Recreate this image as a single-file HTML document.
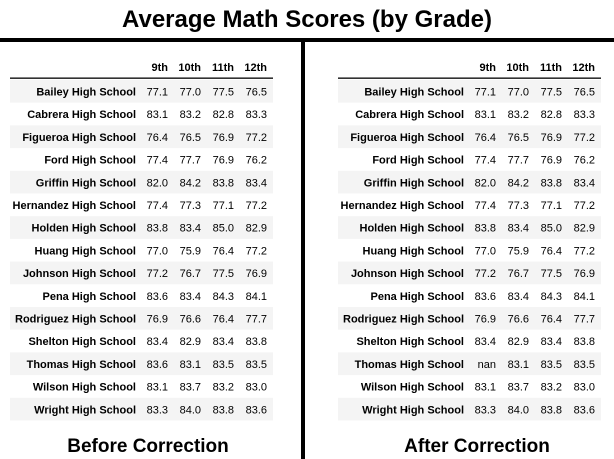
<!DOCTYPE html>
<html><head><meta charset="utf-8">
<style>
html,body{margin:0;padding:0;background:#fff;width:614px;height:459px;overflow:hidden;font-family:"Liberation Sans",Arial,sans-serif}
svg{display:block}
</style></head><body>
<svg id="c" width="614" height="459" xmlns="http://www.w3.org/2000/svg">
<text x="307" y="27" text-anchor="middle" font-family="Liberation Sans, sans-serif" font-weight="bold" font-size="24" fill="#000">Average Math Scores (by Grade)</text>
<rect x="0" y="38" width="614" height="4" fill="#000"/>
<rect x="301" y="40" width="4" height="419" fill="#000"/>
<text x="148" y="452" text-anchor="middle" font-family="Liberation Sans, sans-serif" font-weight="bold" font-size="19" fill="#000">Before Correction</text>
<text x="477" y="452" text-anchor="middle" font-family="Liberation Sans, sans-serif" font-weight="bold" font-size="19" fill="#000">After Correction</text>
</svg>
<script>
const schools=["Bailey High School","Cabrera High School","Figueroa High School","Ford High School","Griffin High School","Hernandez High School","Holden High School","Huang High School","Johnson High School","Pena High School","Rodriguez High School","Shelton High School","Thomas High School","Wilson High School","Wright High School"];
const grades=["9th","10th","11th","12th"];
const before9=["77.1","83.1","76.4","77.4","82.0","77.4","83.8","77.0","77.2","83.6","76.9","83.4","83.6","83.1","83.3"];
const before10=["77.0","83.2","76.5","77.7","84.2","77.3","83.4","75.9","76.7","83.4","76.6","82.9","83.1","83.7","84.0"];
const before11=["77.5","82.8","76.9","76.9","83.8","77.1","85.0","76.4","77.5","84.3","76.4","83.4","83.5","83.2","83.8"];
const before12=["76.5","83.3","77.2","76.2","83.4","77.2","82.9","77.2","76.9","84.1","77.7","83.8","83.5","83.0","83.6"];
const after9=["77.1","83.1","76.4","77.4","82.0","77.4","83.8","77.0","77.2","83.6","76.9","83.4","nan","83.1","83.3"];
const after10=before10, after11=before11, after12=before12;

const NS="http://www.w3.org/2000/svg";
const svg=document.getElementById('c');
function mk(tag,attrs){const e=document.createElementNS(NS,tag);for(const k in attrs)e.setAttribute(k,attrs[k]);svg.appendChild(e);return e;}
function txt(x,y,s,bold,name){const t=mk('text',{x:x,y:y,'text-anchor':'end','font-family':'Liberation Sans, sans-serif','font-size':'11','font-weight':bold?'bold':'normal',fill:'#000'});t.textContent=s;


return t;}
const rowY=i=>80+i*22.7;
const colX=[168,201,234,267];
function table(ox,cols,prefix){
  txt(ox+colX[0],71,grades[0],true,prefix+'-header-9th');
  grades.forEach((g,j)=>{ if(j>0) txt(ox+colX[j],71,g,true,prefix+'-header-'+g); });
  const ln=mk('rect',{x:ox+10,y:77.5,width:263,height:1.3,fill:'#000'});
  
  
  schools.forEach((s,i)=>{
    if(i%2===0){const r=mk('rect',{x:ox+10,y:rowY(i),width:263,height:22.7,fill:'#f4f4f4'});
      
      }
    const y=rowY(i)+15.5;
    txt(ox+136,y,s,true,prefix+'-row-label');
    cols.forEach((c,j)=>txt(ox+colX[j],y,c[i],false,prefix+'-cell'));
  });
}
table(0,[before9,before10,before11,before12],'before');
table(328,[after9,after10,after11,after12],'after');
</script>
</body></html>
